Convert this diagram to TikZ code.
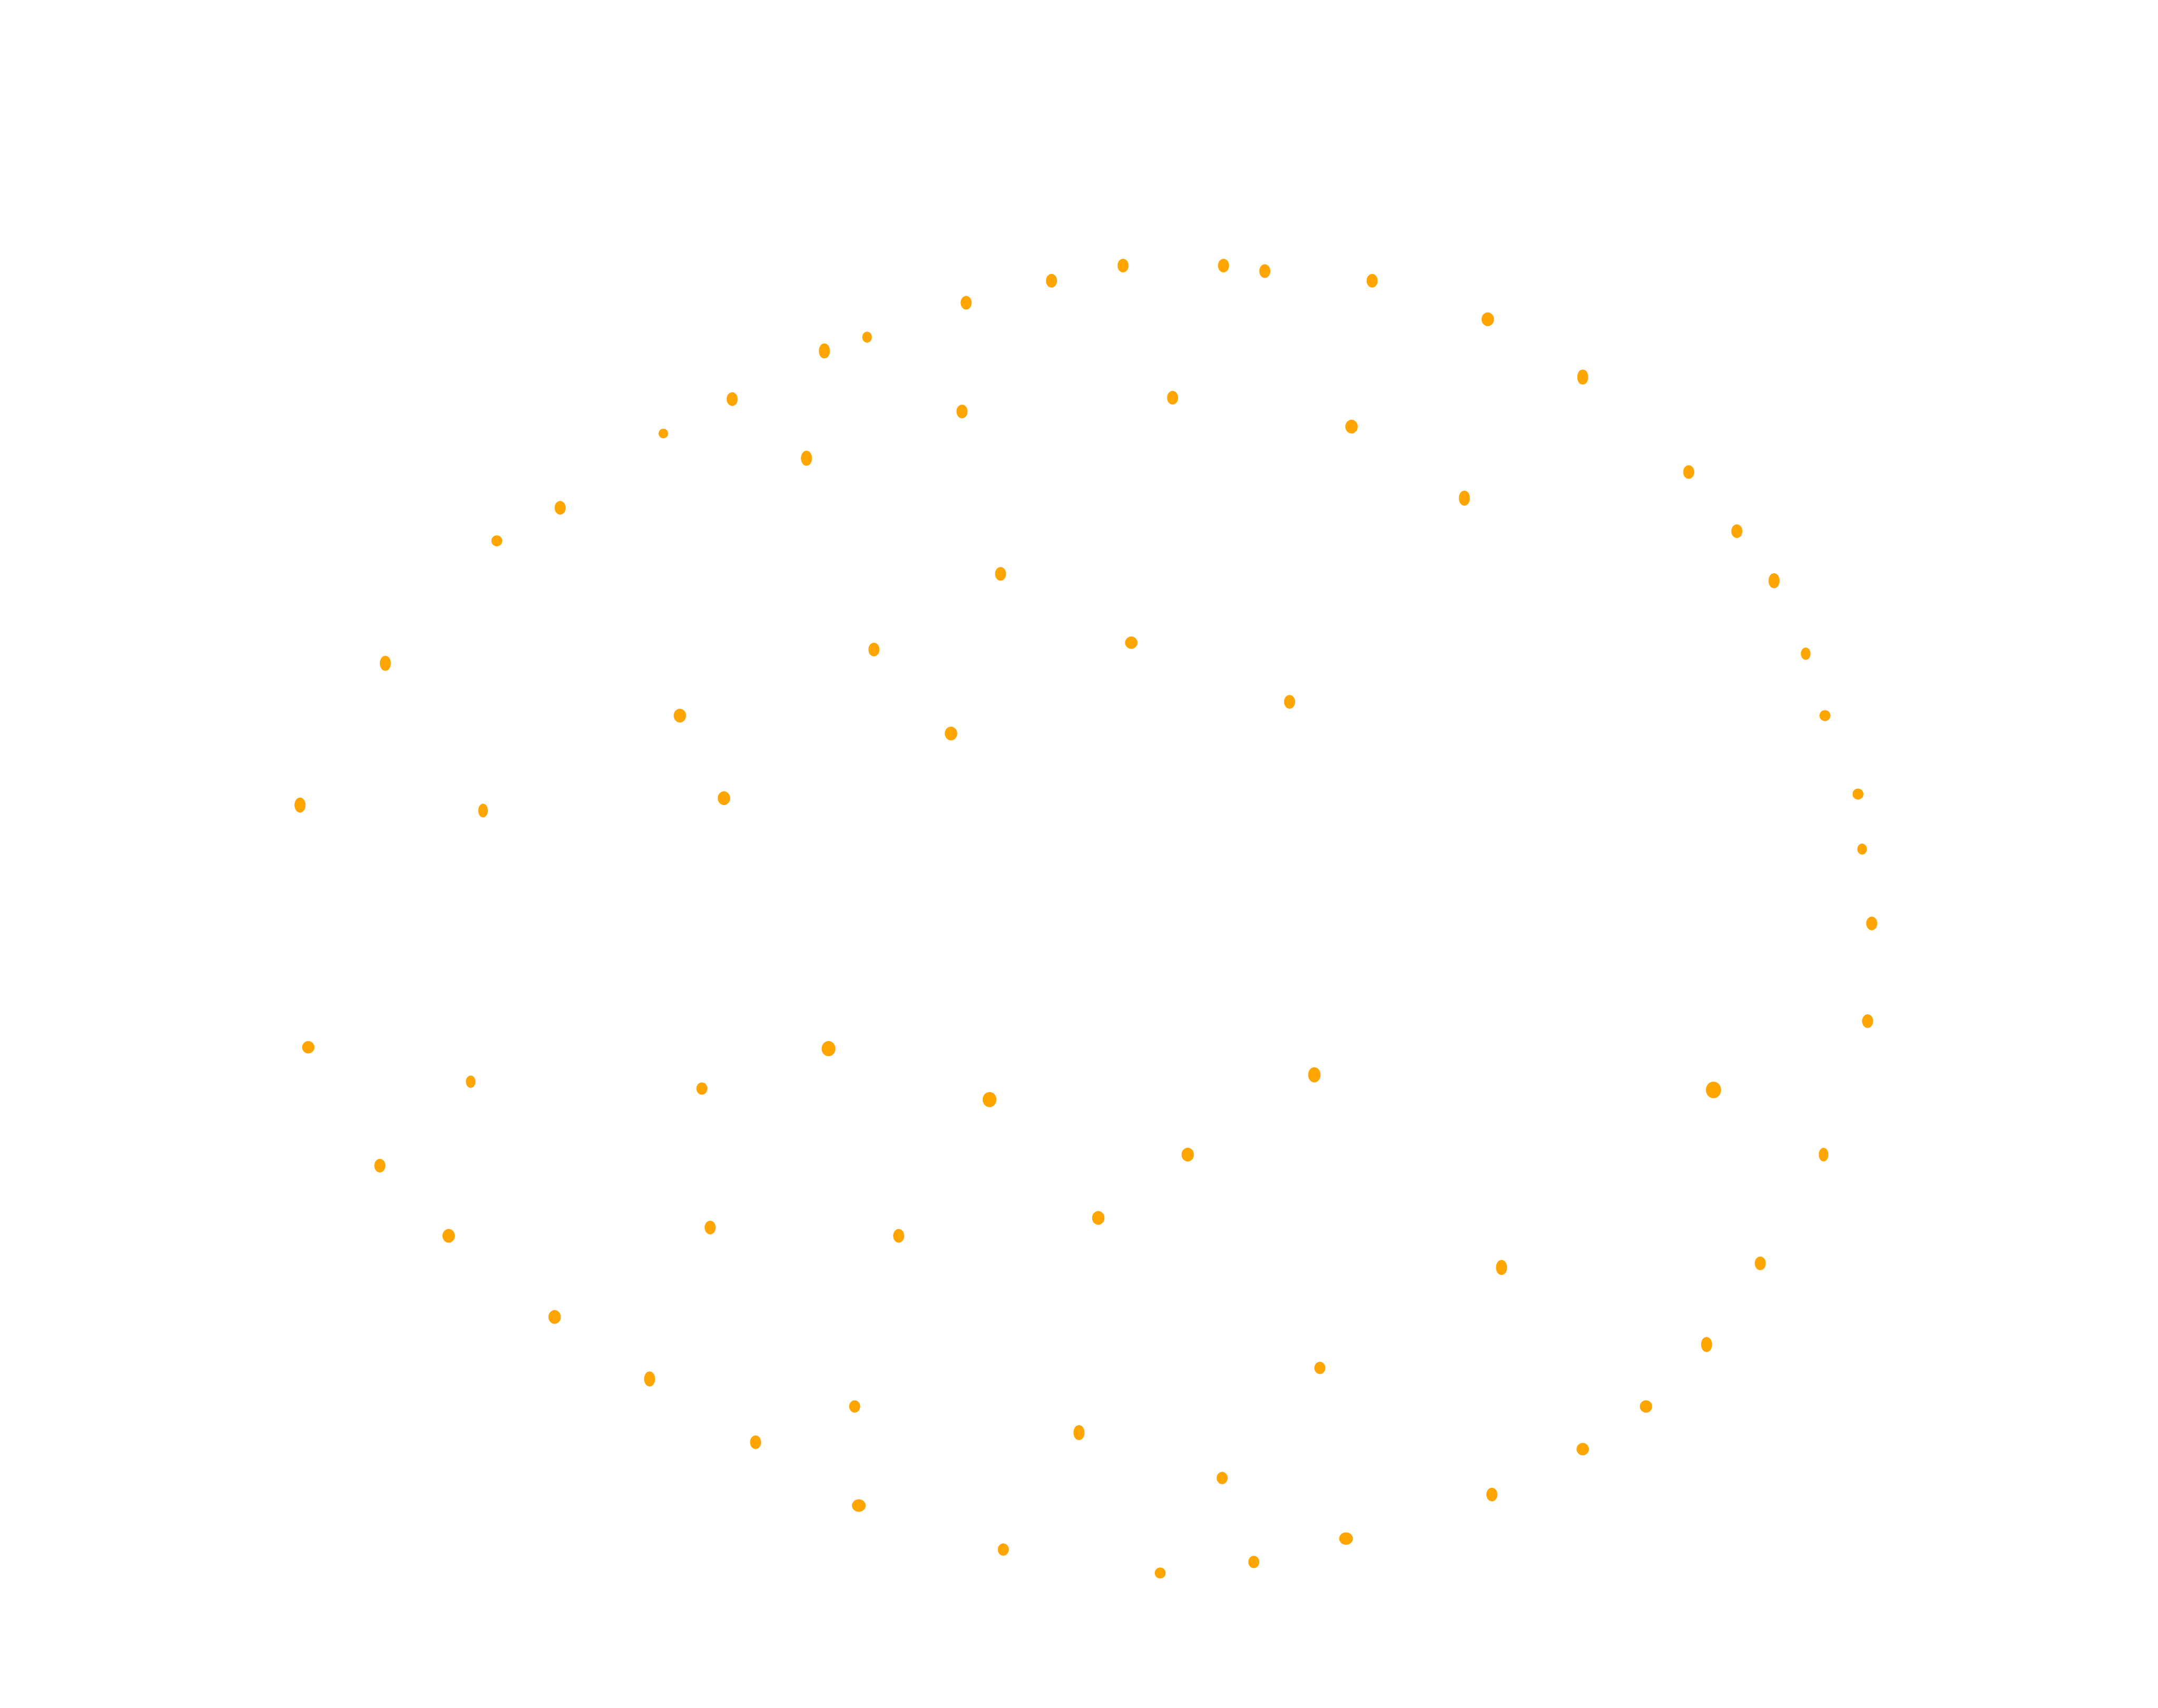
\documentclass[tikz,border=0pt]{standalone}
\usepackage{xcolor}
\definecolor{dotorange}{HTML}{FFA500}

\begin{document}
\begin{tikzpicture}[scale=0.1]
\tikzstyle{every node}+=[inner sep=0pt]
\useasboundingbox (0,0) rectangle (156.8,-124.1);
% top arc
\fill [dotorange] (81.6,-19.3) ellipse (0.4 and 0.5);
\fill [dotorange] (88.9,-19.3) ellipse (0.4 and 0.5);
\fill [dotorange] (91.9,-19.7) ellipse (0.4 and 0.5);
\fill [dotorange] (99.7,-20.4) ellipse (0.4 and 0.5);
\fill [dotorange] (76.4,-20.4) ellipse (0.4 and 0.5);
\fill [dotorange] (70.2,-22.0) ellipse (0.4 and 0.5);
\fill [dotorange] (108.1,-23.2) ellipse (0.45 and 0.5);
\fill [dotorange] (63.0,-24.5) ellipse (0.35 and 0.4);
\fill [dotorange] (59.9,-25.5) ellipse (0.4 and 0.55);
\fill [dotorange] (115.0,-27.4) ellipse (0.4 and 0.55);
\fill [dotorange] (53.2,-29.0) ellipse (0.4 and 0.5);
\fill [dotorange] (85.2,-28.9) ellipse (0.4 and 0.5);
\fill [dotorange] (69.9,-29.9) ellipse (0.4 and 0.5);
\fill [dotorange] (98.2,-31.0) ellipse (0.45 and 0.5);
\fill [dotorange] (48.2,-31.5) ellipse (0.35 and 0.35);
\fill [dotorange] (58.6,-33.3) ellipse (0.4 and 0.55);
\fill [dotorange] (122.7,-34.3) ellipse (0.4 and 0.5);
\fill [dotorange] (106.4,-36.2) ellipse (0.4 and 0.55);
\fill [dotorange] (40.7,-36.9) ellipse (0.4 and 0.5);
\fill [dotorange] (36.1,-39.3) ellipse (0.4 and 0.4);
\fill [dotorange] (126.2,-38.6) ellipse (0.4 and 0.5);
\fill [dotorange] (72.7,-41.7) ellipse (0.4 and 0.5);
\fill [dotorange] (128.9,-42.2) ellipse (0.4 and 0.55);
% middle band
\fill [dotorange] (63.5,-47.2) ellipse (0.4 and 0.5);
\fill [dotorange] (82.2,-46.7) ellipse (0.45 and 0.45);
\fill [dotorange] (131.2,-47.5) ellipse (0.35 and 0.45);
\fill [dotorange] (28.0,-48.2) ellipse (0.4 and 0.55);
\fill [dotorange] (49.4,-52.0) ellipse (0.45 and 0.5);
\fill [dotorange] (93.7,-51.0) ellipse (0.4 and 0.5);
\fill [dotorange] (132.6,-52.0) ellipse (0.4 and 0.4);
\fill [dotorange] (69.1,-53.3) ellipse (0.45 and 0.5);
\fill [dotorange] (21.8,-58.5) ellipse (0.4 and 0.55);
\fill [dotorange] (35.1,-58.9) ellipse (0.35 and 0.5);
\fill [dotorange] (52.6,-58.0) ellipse (0.45 and 0.5);
\fill [dotorange] (135.0,-57.7) ellipse (0.4 and 0.4);
\fill [dotorange] (135.3,-61.7) ellipse (0.35 and 0.4);
\fill [dotorange] (136.0,-67.1) ellipse (0.4 and 0.5);
\fill [dotorange] (135.7,-74.2) ellipse (0.4 and 0.5);
\fill [dotorange] (22.4,-76.1) ellipse (0.45 and 0.45);
\fill [dotorange] (60.2,-76.2) ellipse (0.5 and 0.55);
\fill [dotorange] (34.2,-78.6) ellipse (0.35 and 0.45);
\fill [dotorange] (51.0,-79.1) ellipse (0.4 and 0.45);
\fill [dotorange] (71.9,-79.9) ellipse (0.5 and 0.55);
\fill [dotorange] (95.5,-78.1) ellipse (0.45 and 0.55);
\fill [dotorange] (124.5,-79.2) ellipse (0.55 and 0.6);
% bottom arc
\fill [dotorange] (86.3,-83.9) ellipse (0.45 and 0.5);
\fill [dotorange] (132.5,-83.9) ellipse (0.35 and 0.5);
\fill [dotorange] (27.6,-84.7) ellipse (0.4 and 0.5);
\fill [dotorange] (32.6,-89.8) ellipse (0.45 and 0.5);
\fill [dotorange] (51.6,-89.2) ellipse (0.4 and 0.5);
\fill [dotorange] (65.3,-89.8) ellipse (0.4 and 0.5);
\fill [dotorange] (79.8,-88.5) ellipse (0.45 and 0.5);
\fill [dotorange] (109.1,-92.1) ellipse (0.4 and 0.55);
\fill [dotorange] (127.9,-91.8) ellipse (0.4 and 0.5);
\fill [dotorange] (40.3,-95.7) ellipse (0.45 and 0.5);
\fill [dotorange] (124.0,-97.7) ellipse (0.4 and 0.55);
\fill [dotorange] (95.9,-99.4) ellipse (0.4 and 0.45);
\fill [dotorange] (47.2,-100.2) ellipse (0.4 and 0.55);
\fill [dotorange] (62.1,-102.2) ellipse (0.4 and 0.45);
\fill [dotorange] (119.6,-102.2) ellipse (0.45 and 0.45);
\fill [dotorange] (54.9,-104.8) ellipse (0.4 and 0.5);
\fill [dotorange] (78.4,-104.1) ellipse (0.4 and 0.55);
\fill [dotorange] (115.0,-105.3) ellipse (0.45 and 0.45);
\fill [dotorange] (88.8,-107.4) ellipse (0.4 and 0.45);
\fill [dotorange] (108.4,-108.6) ellipse (0.4 and 0.5);
\fill [dotorange] (62.4,-109.4) ellipse (0.5 and 0.45);
\fill [dotorange] (97.8,-111.8) ellipse (0.5 and 0.45);
\fill [dotorange] (72.9,-112.6) ellipse (0.4 and 0.45);
\fill [dotorange] (91.1,-113.5) ellipse (0.4 and 0.45);
\fill [dotorange] (84.3,-114.3) ellipse (0.4 and 0.4);
\end{tikzpicture}
\end{document}
